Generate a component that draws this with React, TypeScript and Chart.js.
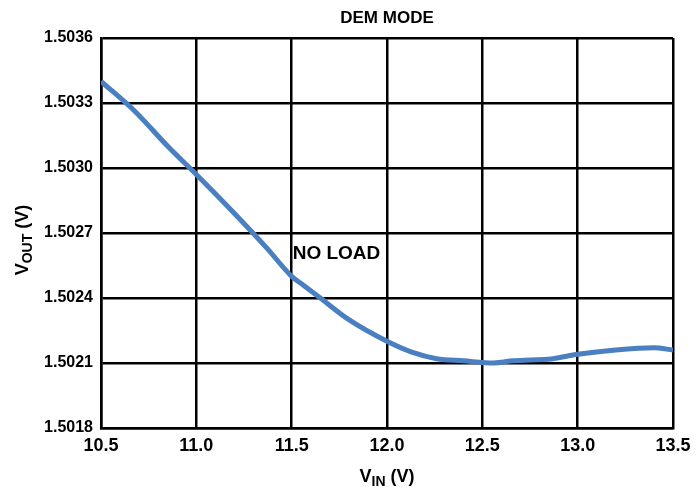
import React, { useEffect, useRef } from "react";
import { Chart, registerables } from "chart.js";

Chart.register(...registerables);

const vin = [10.5, 10.68, 10.85, 11.0, 11.2, 11.37, 11.5, 11.56, 11.65, 11.8, 12.0, 12.13, 12.26, 12.4, 12.56, 12.66, 12.87, 13.0, 13.2, 13.4, 13.5];
const vout = [1.5034, 1.50326, 1.5031, 1.50297, 1.50279, 1.50263, 1.5025, 1.50246, 1.5024, 1.5023, 1.5022, 1.50215, 1.50212, 1.50211, 1.5021, 1.50211, 1.50212, 1.50214, 1.50216, 1.50217, 1.50216];
const xTicks = [10.5, 11.0, 11.5, 12.0, 12.5, 13.0, 13.5];
const yTicks = [1.5018, 1.5021, 1.5024, 1.5027, 1.503, 1.5033, 1.5036];
const titleText = "DEM MODE";
const noteText = "NO LOAD";
const noteAt = { x: 11.735, y: 1.502605 };

const FONT = "'Liberation Sans', Arial, sans-serif";

const overlay = {
  id: "overlay",
  afterDraw(chart: any) {
    const ctx = chart.ctx;
    const a = chart.chartArea;
    const xs = chart.scales.x;
    const ys = chart.scales.y;
    ctx.save();
    ctx.fillStyle = "#000";
    ctx.textBaseline = "middle";
    ctx.textAlign = "center";
    ctx.font = `bold 17px ${FONT}`;
    ctx.fillText(titleText, (a.left + a.right) / 2, 18);
    ctx.font = `bold 19px ${FONT}`;
    ctx.fillText(noteText, xs.getPixelForValue(noteAt.x), ys.getPixelForValue(noteAt.y));
    const measure = (main: string, sub: string, rest: string) => {
      ctx.font = `bold 18px ${FONT}`;
      const w1 = ctx.measureText(main).width;
      const w3 = ctx.measureText(rest).width;
      ctx.font = `bold 14px ${FONT}`;
      const w2 = ctx.measureText(sub).width;
      return { w1, w2, w3, total: w1 + w2 + w3 };
    };
    {
      const m = measure("V", "IN", " (V)");
      let x = (a.left + a.right) / 2 - m.total / 2;
      const y = 482;
      ctx.textAlign = "left";
      ctx.textBaseline = "alphabetic";
      ctx.font = `bold 18px ${FONT}`;
      ctx.fillText("V", x, y);
      x += m.w1;
      ctx.font = `bold 14px ${FONT}`;
      ctx.fillText("IN", x, y + 4);
      x += m.w2;
      ctx.font = `bold 18px ${FONT}`;
      ctx.fillText(" (V)", x, y);
    }
    {
      const m = measure("V", "OUT", " (V)");
      ctx.save();
      ctx.translate(28, 240);
      ctx.rotate(-Math.PI / 2);
      let x = -m.total / 2;
      ctx.textAlign = "left";
      ctx.textBaseline = "alphabetic";
      ctx.font = `bold 18px ${FONT}`;
      ctx.fillText("V", x, 0);
      x += m.w1;
      ctx.font = `bold 14px ${FONT}`;
      ctx.fillText("OUT", x, 4);
      x += m.w2;
      ctx.font = `bold 18px ${FONT}`;
      ctx.fillText(" (V)", x, 0);
      ctx.restore();
    }
    ctx.restore();
  },
};

export default function App() {
  const ref = useRef<HTMLCanvasElement>(null);
  useEffect(() => {
    document.body.style.margin = "0";
    const chart = new Chart(ref.current!, {
      type: "line",
      data: {
        datasets: [
          {
            data: vin.map((x, i) => ({ x, y: vout[i] })),
            borderColor: "#4a7fc1",
            borderWidth: 5,
            pointRadius: 0,
            cubicInterpolationMode: "monotone",
            fill: false,
          },
        ],
      },
      options: {
        responsive: true,
        maintainAspectRatio: false,
        animation: false,
        devicePixelRatio: 1,
        layout: { padding: { top: 38, right: 26, left: 0, bottom: 0 } },
        plugins: { legend: { display: false }, tooltip: { enabled: false }, title: { display: false } },
        scales: {
          x: {
            type: "linear",
            min: 10.5,
            max: 13.5,
            afterFit: (s: any) => { s.height = 59; },
            afterBuildTicks: (s: any) => { s.ticks = xTicks.map((v) => ({ value: v })); },
            grid: { color: "#000", lineWidth: 2.5, drawTicks: false },
            border: { color: "#000", width: 2.5 },
            ticks: {
              color: "#000",
              padding: 7,
              maxRotation: 0,
              font: { family: FONT, size: 18, weight: "bold" },
              callback: (v: any) => Number(v).toFixed(1),
            },
          },
          y: {
            type: "linear",
            min: 1.5018,
            max: 1.5036,
            afterFit: (s: any) => { s.width = 101; },
            afterBuildTicks: (s: any) => { s.ticks = yTicks.map((v) => ({ value: v })); },
            grid: { color: "#000", lineWidth: 2.5, drawTicks: false },
            border: { color: "#000", width: 2.5 },
            ticks: {
              color: "#000",
              padding: 8,
              font: { family: FONT, size: 16, weight: "bold" },
              callback: (v: any) => Number(v).toFixed(4),
            },
          },
        },
      },
      plugins: [overlay],
    } as any);
    return () => chart.destroy();
  }, []);
  return (
    <div style={{ width: 699, height: 487, position: "relative" }}>
      <canvas ref={ref} />
    </div>
  );
}
